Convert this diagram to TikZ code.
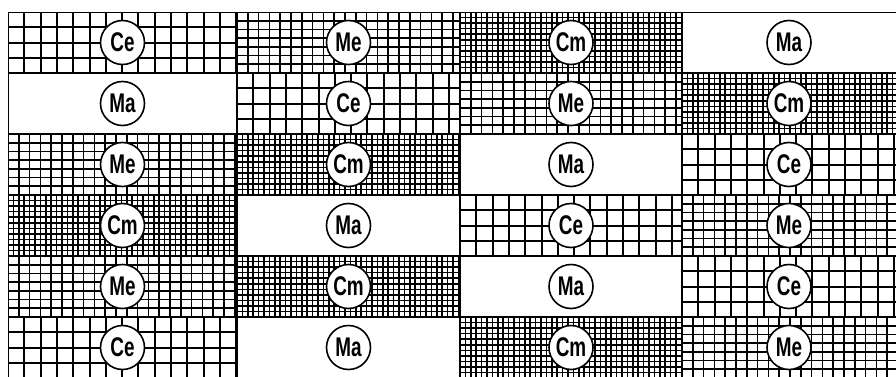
\documentclass[tikz,border=0pt]{standalone}
\usepackage{fontspec}
\newfontfamily\cropfont[FakeStretch=0.7]{Liberation Sans}
\usepackage{tikz}

\begin{document}
\begin{tikzpicture}[
  x=1pt, y=1pt,
  gCe/.style={line width=2pt, xstep=16.3pt, ystep=15.25pt},
  gMe/.style={line width=1.7pt, xstep=10.8pt, ystep=8.71pt},
  gCm/.style={line width=1.6pt, xstep=5.4pt, ystep=5.55pt},
  gMa/.style={line width=1.7pt, xstep=2000pt, ystep=2000pt},
  edge/.style={line width=1.8pt},
  crop/.style={circle, draw, line width=1.6pt, fill=white, minimum size=44pt,
               inner sep=0pt, font=\cropfont\bfseries\fontsize{27}{27}\selectfont},
]
\useasboundingbox (0,0) rectangle (896,376);
\def\rowh{61}

% ---- fields, one column per year ---------------------------------------------
\foreach \xa/\xb/\xm/\crops [count=\c] in {
    8/237/122.5/{Ce,Ma,Me,Cm,Me,Ce},
    237/460/348.5/{Me,Ce,Cm,Ma,Cm,Ma},
    460/682/571/{Cm,Me,Ma,Ce,Ma,Cm},
    682/902/789/{Ma,Cm,Ce,Me,Ce,Me}}{
  \foreach \k [count=\r] in \crops {
    \pgfmathsetmacro\yt{364-\rowh*(\r-1)}
    \begin{scope}[shift={(\xa,\yt)}]
      \clip (0,0) rectangle (\xb-\xa,-\rowh);
      \draw[g\k] (0,0) grid (\xb-\xa,-\rowh);
      \draw[edge] (0,0) rectangle (\xb-\xa,-\rowh);
    \end{scope}
    \node[crop] (\k-\c-\r) at (\xm,\yt-30.5) {\k};
  }
}
\end{tikzpicture}
\end{document}
